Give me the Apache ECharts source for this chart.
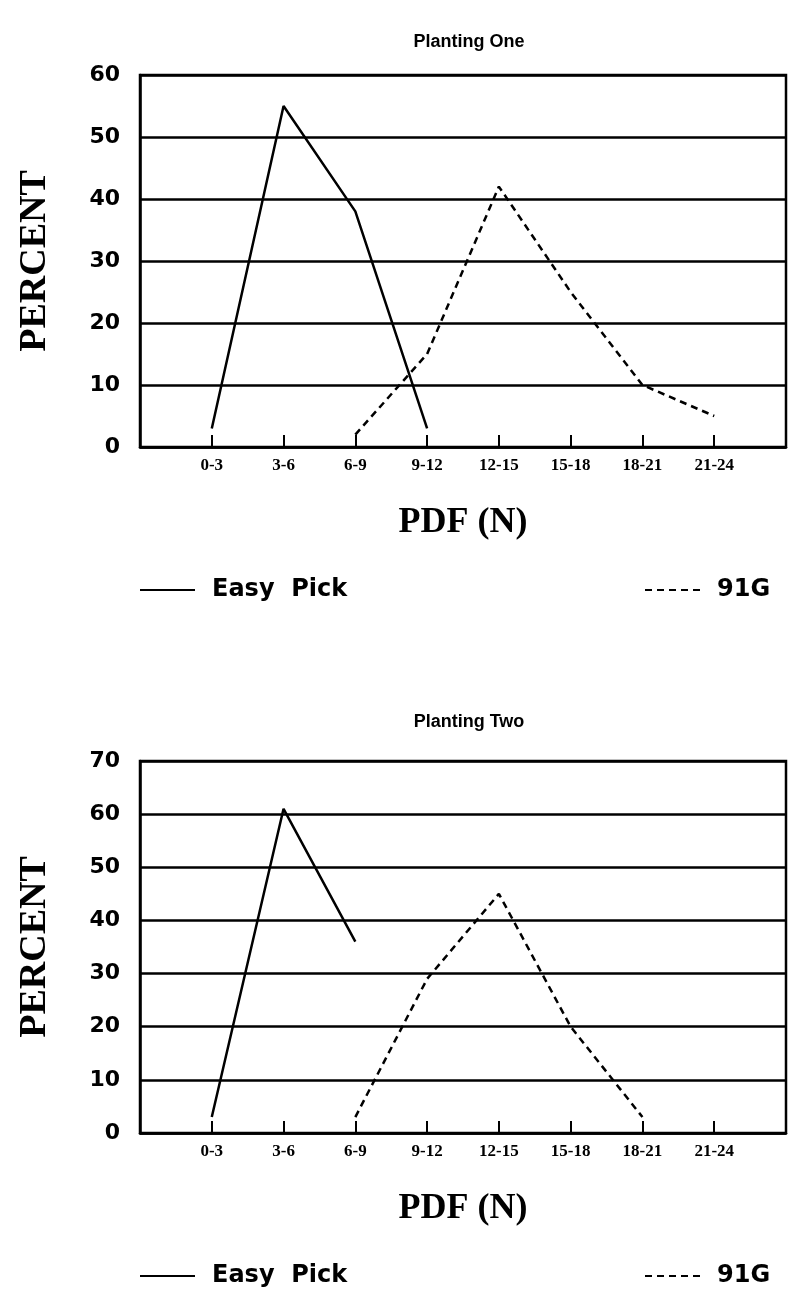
<!DOCTYPE html>
<html>
<head>
<meta charset="utf-8">
<script src="https://cdn.jsdelivr.net/npm/echarts@6/dist/echarts.min.js"></script>
<style>
html, body { margin: 0; padding: 0; background: #fff; }
#main { width: 789px; height: 1289px; }
</style>
</head>
<body>
<div id="main"></div>
<script>
// PDF classes (N)
var categories = ['0-3', '3-6', '6-9', '9-12', '12-15', '15-18', '18-21', '21-24'];

// Planting One (percent)
var oneEasyPick = [3, 55, 38, 3, null, null, null, null];
var one91G = [null, null, 2, 15, 42, 25, 10, 5];

// Planting Two (percent)
var twoEasyPick = [3, 61, 36, null, null, null, null, null];
var two91G = [null, null, 3, 29, 45, 20, 3, null];

// y axis ranges
var oneYMax = 60;
var twoYMax = 70;
var yStep = 10;

var serif = '"Liberation Serif", "Times New Roman", serif';
var sans = '"Liberation Sans", Arial, sans-serif';
var wide = '"DejaVu Sans", Verdana, sans-serif';

// legend keys: a plain bar and five short dashes
var solidKey = 'path://M0,0H55V2H0Z';
var dashKey = 'path://M0,0h7v2h-7zM12,0h7v2h-7zM24,0h7v2h-7zM36,0h7v2h-7zM48,0h7v2h-7z';

// one empty slot each side, so the first class sits one step in from the frame
function pad(arr) {
    return [null].concat(arr, [null]);
}
var axisCats = [''].concat(categories, ['']);

function xAxisFor(idx) {
    return {
        type: 'category',
        gridIndex: idx,
        data: axisCats,
        boundaryGap: false,
        axisLine: { lineStyle: { color: '#000', width: 2.5 } },
        axisTick: { inside: true, length: 12, interval: 0, lineStyle: { color: '#000', width: 2 } },
        axisLabel: { interval: 0, color: '#000', fontFamily: serif, fontWeight: 'bold', fontSize: 17, margin: 10 },
        splitLine: { show: false },
        name: 'PDF (N)',
        nameLocation: 'middle',
        nameGap: 58,
        nameTextStyle: { color: '#000', fontFamily: serif, fontWeight: 'bold', fontSize: 36 }
    };
}

function yAxisFor(idx, max) {
    return {
        type: 'value',
        gridIndex: idx,
        min: 0,
        max: max,
        interval: yStep,
        axisLine: { show: true, lineStyle: { color: '#000', width: 2.5 } },
        axisTick: { show: false },
        axisLabel: { color: '#000', fontFamily: wide, fontWeight: 'bold', fontSize: 22, margin: 20 },
        splitLine: { show: true, lineStyle: { color: '#000', width: 2.5 } },
        name: 'PERCENT',
        nameLocation: 'middle',
        nameRotate: 90,
        nameGap: 86,
        nameTextStyle: { color: '#000', fontFamily: serif, fontWeight: 'bold', fontSize: 38 }
    };
}

function lineSeries(name, idx, values, dashed) {
    return {
        name: name,
        type: 'line',
        xAxisIndex: idx,
        yAxisIndex: idx,
        data: pad(values),
        symbol: 'none',
        connectNulls: false,
        lineStyle: { color: '#000', width: 2.5, type: dashed ? [7, 5] : 'solid' },
        itemStyle: { color: '#000' }
    };
}

function legendAt(name, left, top, dashed) {
    return {
        data: [name],
        left: left,
        top: top,
        padding: 0,
        icon: dashed ? dashKey : solidKey,
        itemWidth: 55,
        itemHeight: 2,
        selectedMode: false,
        itemStyle: { color: '#000', borderWidth: 0 },
        formatter: function (n) { return n === 'Easy Pick' ? 'Easy  Pick' : n; },
        textStyle: { color: '#000', fontFamily: wide, fontWeight: 'bold', fontSize: 24, padding: [0, 0, 0, 12] }
    };
}

var myChart = echarts.init(document.getElementById('main'));

var option = {
    animation: false,
    backgroundColor: '#fff',
    title: [
        { text: 'Planting One', left: 464, top: 28, textAlign: 'center',
          textStyle: { color: '#000', fontFamily: sans, fontWeight: 'bold', fontSize: 18 } },
        { text: 'Planting Two', left: 464, top: 708, textAlign: 'center',
          textStyle: { color: '#000', fontFamily: sans, fontWeight: 'bold', fontSize: 18 } }
    ],
    grid: [
        { left: 140, top: 75, width: 648, height: 372, show: true, borderColor: '#000', borderWidth: 2.5 },
        { left: 140, top: 761, width: 648, height: 372, show: true, borderColor: '#000', borderWidth: 2.5 }
    ],
    legend: [
        legendAt('Easy Pick', 140, 578, false),
        legendAt('91G', 645, 578, true),
        legendAt('Easy Pick', 140, 1264, false),
        legendAt('91G', 645, 1264, true)
    ],
    xAxis: [xAxisFor(0), xAxisFor(1)],
    yAxis: [yAxisFor(0, oneYMax), yAxisFor(1, twoYMax)],
    series: [
        lineSeries('Easy Pick', 0, oneEasyPick, false),
        lineSeries('91G', 0, one91G, true),
        lineSeries('Easy Pick', 1, twoEasyPick, false),
        lineSeries('91G', 1, two91G, true)
    ]
};

myChart.setOption(option);
</script>
</body>
</html>
